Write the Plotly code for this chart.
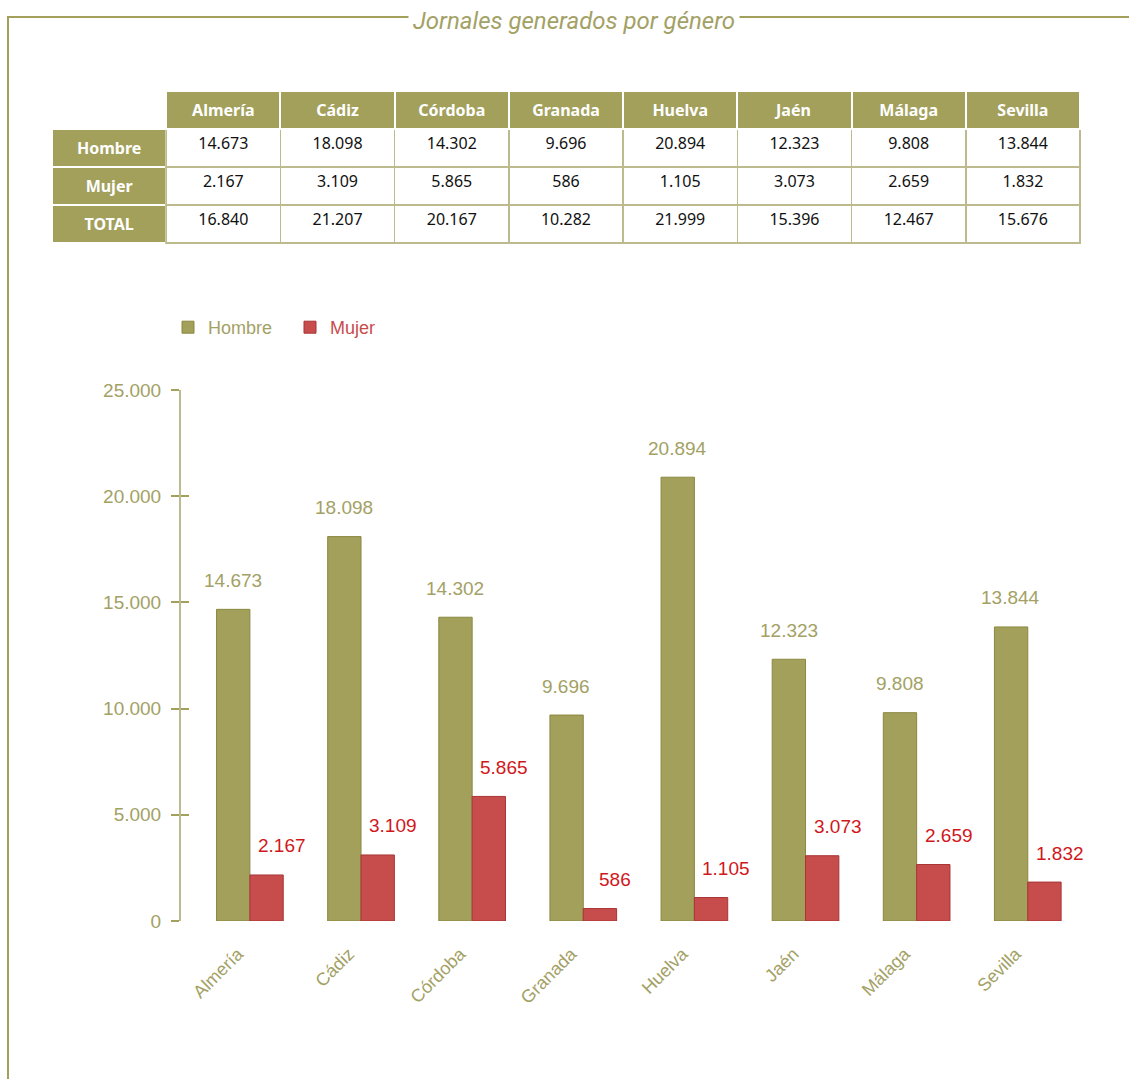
import plotly.graph_objects as go

# ---- data ----
provincias = ["Almería", "Cádiz", "Córdoba", "Granada", "Huelva", "Jaén", "Málaga", "Sevilla"]
hombre = [14673, 18098, 14302, 9696, 20894, 12323, 9808, 13844]
mujer = [2167, 3109, 5865, 586, 1105, 3073, 2659, 1832]
total = [16840, 21207, 20167, 10282, 21999, 15396, 12467, 15676]
row_labels = ["Hombre", "Mujer", "TOTAL"]
y_ticks = [0, 5000, 10000, 15000, 20000, 25000]
titulo = "Jornales generados por género"

# ---- styles ----
W, H = 1129, 1079
OLIVE = "#a2a05b"
OLIVE_TXT = "#a3a165"
OLIVE_LINE = "#bdbb8e"
RED = "#c74c4c"
RED_TXT = "#d0181c"
FONT = "Liberation Sans"


def px_x(p):
    return p / W


def px_y(p):
    return 1 - p / H


def fmt(v):
    return f"{v:,}".replace(",", ".")


fig = go.Figure()

# ---- table ----
header_vals = [""] + [f"<b>{p}</b>" for p in provincias]
cell_vals = [[f"<b>{r}</b>" for r in row_labels]] + [
    [fmt(h), fmt(m), fmt(t)] for h, m, t in zip(hombre, mujer, total)
]
fig.add_trace(go.Table(
    domain=dict(x=[px_x(52), px_x(1080)], y=[px_y(260), px_y(91)]),
    columnwidth=[114] * 9,
    header=dict(
        values=header_vals,
        fill_color=["white"] + [OLIVE] * 8,
        line=dict(color="white", width=2),
        font=dict(family="Noto Sans", size=16, color="white"),
        align="center",
        height=34,
    ),
    cells=dict(
        values=cell_vals,
        fill_color=[[OLIVE] * 3] + [["white"] * 3] * 8,
        line=dict(color=["white"] + [OLIVE_LINE] * 8, width=1.5),
        font=dict(family="Noto Sans", size=16,
                  color=["white"] + ["#111111"] * 8),
        align="center",
        height=34,
    ),
))

# ---- bars ----
fig.add_trace(go.Bar(
    x=provincias, y=hombre, name="<span style='color:%s'>Hombre</span>" % OLIVE_TXT,
    marker=dict(color=OLIVE, line=dict(color="#8a883f", width=1)),
    cliponaxis=False,
))
fig.add_trace(go.Bar(
    x=provincias, y=mujer, name="<span style='color:%s'>Mujer</span>" % RED,
    marker=dict(color=RED, line=dict(color="#a83535", width=1)),
    cliponaxis=False,
))

# value labels placed at the data values
for cat, h, m in zip(provincias, hombre, mujer):
    fig.add_annotation(x=cat, y=h, text=fmt(h), showarrow=False,
                       xshift=-17, yshift=29, yanchor="middle",
                       font=dict(family=FONT, size=19, color=OLIVE_TXT))
    fig.add_annotation(x=cat, y=m, text=fmt(m), showarrow=False,
                       xshift=32, yshift=29, yanchor="middle",
                       font=dict(family=FONT, size=19, color=RED_TXT))

# dummy overlay axis to get crossing ticks
fig.add_trace(go.Scatter(x=[provincias[0]], y=[0], yaxis="y2", mode="markers",
                         marker=dict(opacity=0), showlegend=False, hoverinfo="skip"))

y_dom = [px_y(921), px_y(390)]
fig.update_layout(
    width=W, height=H,
    margin=dict(l=0, r=0, t=0, b=0, autoexpand=False),
    paper_bgcolor="white", plot_bgcolor="white",
    separators=",.",
    barmode="group", bargap=0.4, bargroupgap=0,
    font=dict(family=FONT, color=OLIVE_TXT),
    showlegend=True,
    legend=dict(
        orientation="h", x=px_x(168), y=px_y(309), xanchor="left", yanchor="top",
        font=dict(family=FONT, size=18), entrywidth=77, entrywidthmode="pixels",
        bgcolor="rgba(0,0,0,0)",
    ),
    xaxis=dict(
        domain=[px_x(181), px_x(1090)], range=[-0.62, 7.56],
        showline=False, showgrid=False, zeroline=False, ticks="",
        tickangle=-45, tickfont=dict(family=FONT, size=18, color=OLIVE_TXT),
        ticklabelstandoff=18, ticklabelshift=-12,
    ),
    yaxis=dict(
        domain=y_dom, range=[0, 25000], tickvals=y_ticks,
        ticktext=[fmt(v) for v in y_ticks],
        showline=True, linecolor=OLIVE_LINE, linewidth=2,
        ticks="outside", ticklen=8, tickwidth=2, tickcolor=OLIVE,
        showgrid=False, zeroline=False,
        tickfont=dict(family=FONT, size=19, color=OLIVE_TXT),
        ticklabelstandoff=6,
    ),
    yaxis2=dict(
        domain=y_dom, range=[0, 25000], overlaying="y", side="left",
        anchor="x", tickvals=y_ticks, showticklabels=False,
        ticks="inside", ticklen=8, tickwidth=2, tickcolor=OLIVE,
        showline=False, showgrid=False, zeroline=False,
    ),
)

# ---- frame and title ----
fig.add_shape(type="line", xref="paper", yref="paper",
              x0=px_x(7), x1=1, y0=px_y(17), y1=px_y(17),
              line=dict(color=OLIVE, width=2))
fig.add_shape(type="line", xref="paper", yref="paper",
              x0=px_x(8), x1=px_x(8), y0=px_y(17), y1=0,
              line=dict(color=OLIVE, width=2))
fig.add_annotation(
    text="<i>%s</i>" % titulo, xref="paper", yref="paper",
    x=px_x(574), y=px_y(21), xanchor="center", yanchor="middle",
    showarrow=False, bgcolor="white", borderpad=4,
    font=dict(family="Roboto", size=24, color=OLIVE_TXT),
)

fig.write_html("out.html", config={"displayModeBar": False},
               post_script="document.body.style.margin='0';")
